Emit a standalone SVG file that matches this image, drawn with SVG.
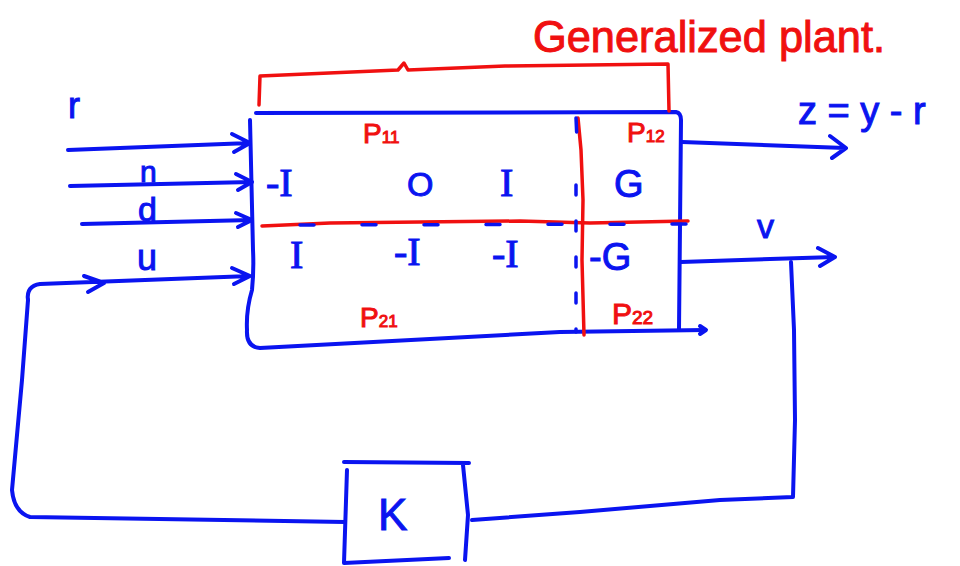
<svg xmlns="http://www.w3.org/2000/svg" width="960" height="566" viewBox="0 0 960 566">
  <style>
    .blue { fill: none; stroke: #0a14f0; stroke-width: 4; stroke-linecap: round; stroke-linejoin: round; }
    .red { fill: none; stroke: #f01010; stroke-width: 3.5; stroke-linecap: round; stroke-linejoin: round; }
    .dash { fill: none; stroke: #0a14f0; stroke-width: 3.5; stroke-linecap: round; stroke-dasharray: 14 48; }
    .tb { font-family: "Liberation Sans", "DejaVu Sans", sans-serif; fill: #0a14f0; stroke: #0a14f0; stroke-width: 1; }
    .ts { font-family: "Liberation Serif", "DejaVu Serif", serif; fill: #0a14f0; stroke: #0a14f0; stroke-width: 1; }
    .tr { font-family: "Liberation Sans", "DejaVu Sans", sans-serif; fill: #f01010; stroke: #f01010; stroke-width: 1; }
  </style>
  <rect width="960" height="566" fill="#ffffff"/>

  <!-- generalized plant block with its partition -->
  <g id="plant">
    <path class="blue" d="M256 113 L676 112 Q681 113 681 120 L679 330 M705 330 L560 332 L260 348 Q246 347 247 330 Q246 310 252 290 Q254 270 253 250 L250 120"/>
    <path class="blue" d="M700 326 L706 330 L700 334"/>
    <!-- partition lines -->
    <path class="red" d="M262 226 L330 223 L520 221 L590 223 L688 221"/>
    <path class="red" d="M578 118 L581 150 L583 200 L582 260 L584 335"/>
    <path class="dash" d="M300 225 L690 224"/>
    <path class="dash" d="M576 118 L577 140"/>
    <path class="dash" d="M576 185 L576 332" style="stroke-dasharray: 10 26"/>
    <!-- sub-block labels -->
    <text class="tr" x="363" y="143" font-size="28">P<tspan font-size="17">11</tspan></text>
    <text class="tr" x="627" y="142" font-size="28">P<tspan font-size="17">12</tspan></text>
    <text class="tr" x="360" y="327" font-size="28">P<tspan font-size="17">21</tspan></text>
    <text class="tr" x="612" y="324" font-size="30">P<tspan font-size="19">22</tspan></text>
    <!-- matrix entries -->
    <text class="ts" x="266" y="196" font-size="40">-I</text>
    <text class="tb" x="407" y="196" font-size="34">O</text>
    <text class="ts" x="500" y="196" font-size="40">I</text>
    <text class="tb" x="614" y="197" font-size="38">G</text>
    <text class="ts" x="290" y="268" font-size="40">I</text>
    <text class="ts" x="394" y="265" font-size="40">-I</text>
    <text class="ts" x="492" y="267" font-size="40">-I</text>
    <text class="tb" x="589" y="270" font-size="38">-G</text>
    <!-- bracket and title -->
    <path class="red" d="M259 105 L260 76 L398 70 L404 63 L408 70 L505 66 L668 64 L669 111"/>
    <text class="tr" x="533" y="52" font-size="44" textLength="352" lengthAdjust="spacingAndGlyphs">Generalized plant.</text>
  </g>

  <!-- controller -->
  <g id="controller">
    <path class="blue" d="M344 462 L469 463 M347 470 L344 563 L449 558 M463 465 L468 515 L465 560"/>
    <text class="tb" x="378" y="530" font-size="44">K</text>
  </g>

  <!-- signal connectors -->
  <g id="connectors">
    <path class="blue" d="M68 150 L250 143 M232 134 L250 143 L234 152"/>
    <path class="blue" d="M70 186 L252 182 M236 174 L252 182 L238 190"/>
    <path class="blue" d="M82 224 L252 220 M236 213 L252 220 L238 227"/>
    <path class="blue" d="M28 300 Q26 286 40 284 L250 276 M232 268 L250 276 L234 284 M84 276 L104 283 L88 292"/>
    <path class="blue" d="M345 522 L30 517 Q14 512 12 490 L22 380 L28 300"/>
    <path class="blue" d="M472 520 L580 512 L720 500 L793 497 L795 420 L794 330 L791 262"/>
    <path class="blue" d="M682 142 L845 148 M830 136 L846 148 L832 158"/>
    <path class="blue" d="M681 262 L835 257 M818 248 L835 257 L820 266"/>
    <!-- signal names -->
    <text class="tb" x="68" y="118" font-size="36">r</text>
    <text class="tb" x="140" y="182" font-size="30">n</text>
    <text class="tb" x="138" y="221" font-size="34">d</text>
    <text class="tb" x="137" y="270" font-size="36">u</text>
    <text class="tb" x="757" y="238" font-size="34">v</text>
    <text class="tb" x="798" y="124" font-size="38">z = y - r</text>
  </g>
</svg>
